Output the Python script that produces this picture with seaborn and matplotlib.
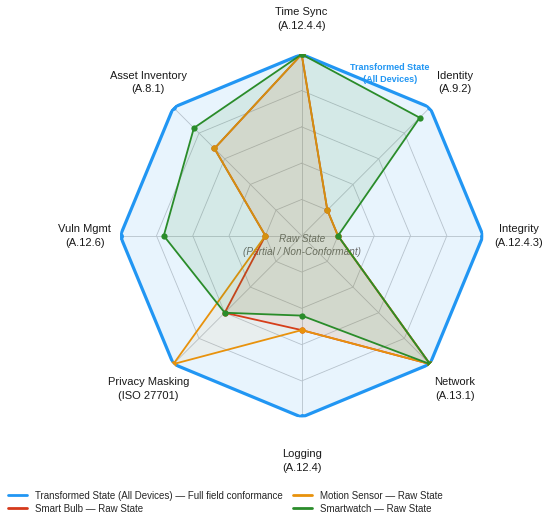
import numpy as np
import matplotlib
matplotlib.use("Agg")
import matplotlib.pyplot as plt
from matplotlib.lines import Line2D
import seaborn as sns

# axes, clockwise from the top
categories = ["Time Sync\n(A.12.4.4)", "Identity\n(A.9.2)", "Integrity\n(A.12.4.3)",
              "Network\n(A.13.1)", "Logging\n(A.12.4)", "Privacy Masking\n(ISO 27701)",
              "Vuln Mgmt\n(A.12.6)", "Asset Inventory\n(A.8.1)"]

# conformance scores (0-100)
transformed = [100, 100, 100, 100, 100, 100, 100, 100]
smart_bulb = [100, 20, 20, 100, 52, 60, 20, 68]
motion_sensor = [100, 20, 20, 100, 52, 100, 20, 68]
smartwatch = [100, 92, 20, 100, 44, 60, 76, 84]

ring_levels = [20, 40, 60, 80, 100]

series_names = ["Transformed State (All Devices) \u2014 Full field conformance",
                "Smart Bulb \u2014 Raw State",
                "Motion Sensor \u2014 Raw State",
                "Smartwatch \u2014 Raw State"]
series_colors = ["#2196F3", "#D5391B", "#E8920C", "#2A8C2A"]
fill_alphas = [0.1, 0.07, 0.06, 0.1]

sns.set_theme(style="white")
plt.rcParams['font.family'] = ['Liberation Sans', 'DejaVu Sans']

fig = plt.figure(figsize=(5.5, 5.17), dpi=100)
ax = fig.add_axes([0.2185, 0.193, 0.66, 0.702], projection='polar')
ax.set_theta_offset(np.pi / 2)
ax.set_theta_direction(-1)

n = len(categories)
angles = np.linspace(0, 2 * np.pi, n, endpoint=False)
closed = np.append(angles, 2 * np.pi)

# polygon grid
for lvl in ring_levels:
    ax.plot(closed, [lvl] * (n + 1), color='#c8c8c8', lw=0.6, zorder=1)
for a in angles:
    ax.plot([a, a], [0, 100], color='#c8c8c8', lw=0.6, zorder=1)

all_series = [transformed, smart_bulb, motion_sensor, smartwatch]
for i, (vals, color) in enumerate(zip(all_series, series_colors)):
    v = np.append(vals, vals[0])
    lw = 2.3 if i == 0 else 1.3
    ms = 5 if i == 0 else 4.5
    ax.fill(closed, v, color=color, alpha=fill_alphas[i], lw=0, zorder=2 + i)
    sns.lineplot(x=closed, y=v, sort=False, ax=ax, color=color, lw=lw,
                 marker='o', markersize=ms, markeredgewidth=0, legend=False,
                 zorder=3 + i)

ax.set_ylim(0, 100)
ax.set_xticks([])
ax.set_yticks([])
ax.grid(False)
ax.spines['polar'].set_visible(False)
ax.set_xlabel('')
ax.set_ylabel('')

# category labels
for a, lab in zip(angles, categories):
    r = 124 if lab.startswith("Logging") else 119.5
    ax.text(a, r, lab, ha='center', va='center', fontsize=8, color='#1a1a1a',
            linespacing=1.45)

ax.text(0.743, 0.947, "Transformed State\n(All Devices)", transform=ax.transAxes,
        ha='center', va='center', fontsize=6.5, fontweight='bold', color='#2196F3',
        linespacing=1.4)
ax.text(0.5, 0.473, "Raw State\n(Partial / Non-Conformant)", transform=ax.transAxes,
        ha='center', va='center', fontsize=7.2, style='italic', color='#6a6a6a',
        linespacing=1.4)

handles = [Line2D([0], [0], color=c, lw=2) for c in series_colors]
fig.legend(handles, series_names, loc='upper left', bbox_to_anchor=(0.002, 0.064),
           ncol=2, frameon=False, fontsize=7, handlelength=2.0, handletextpad=0.8,
           columnspacing=1.0, labelspacing=0.3, borderaxespad=0.3)

fig.savefig("out.png", dpi=100)
